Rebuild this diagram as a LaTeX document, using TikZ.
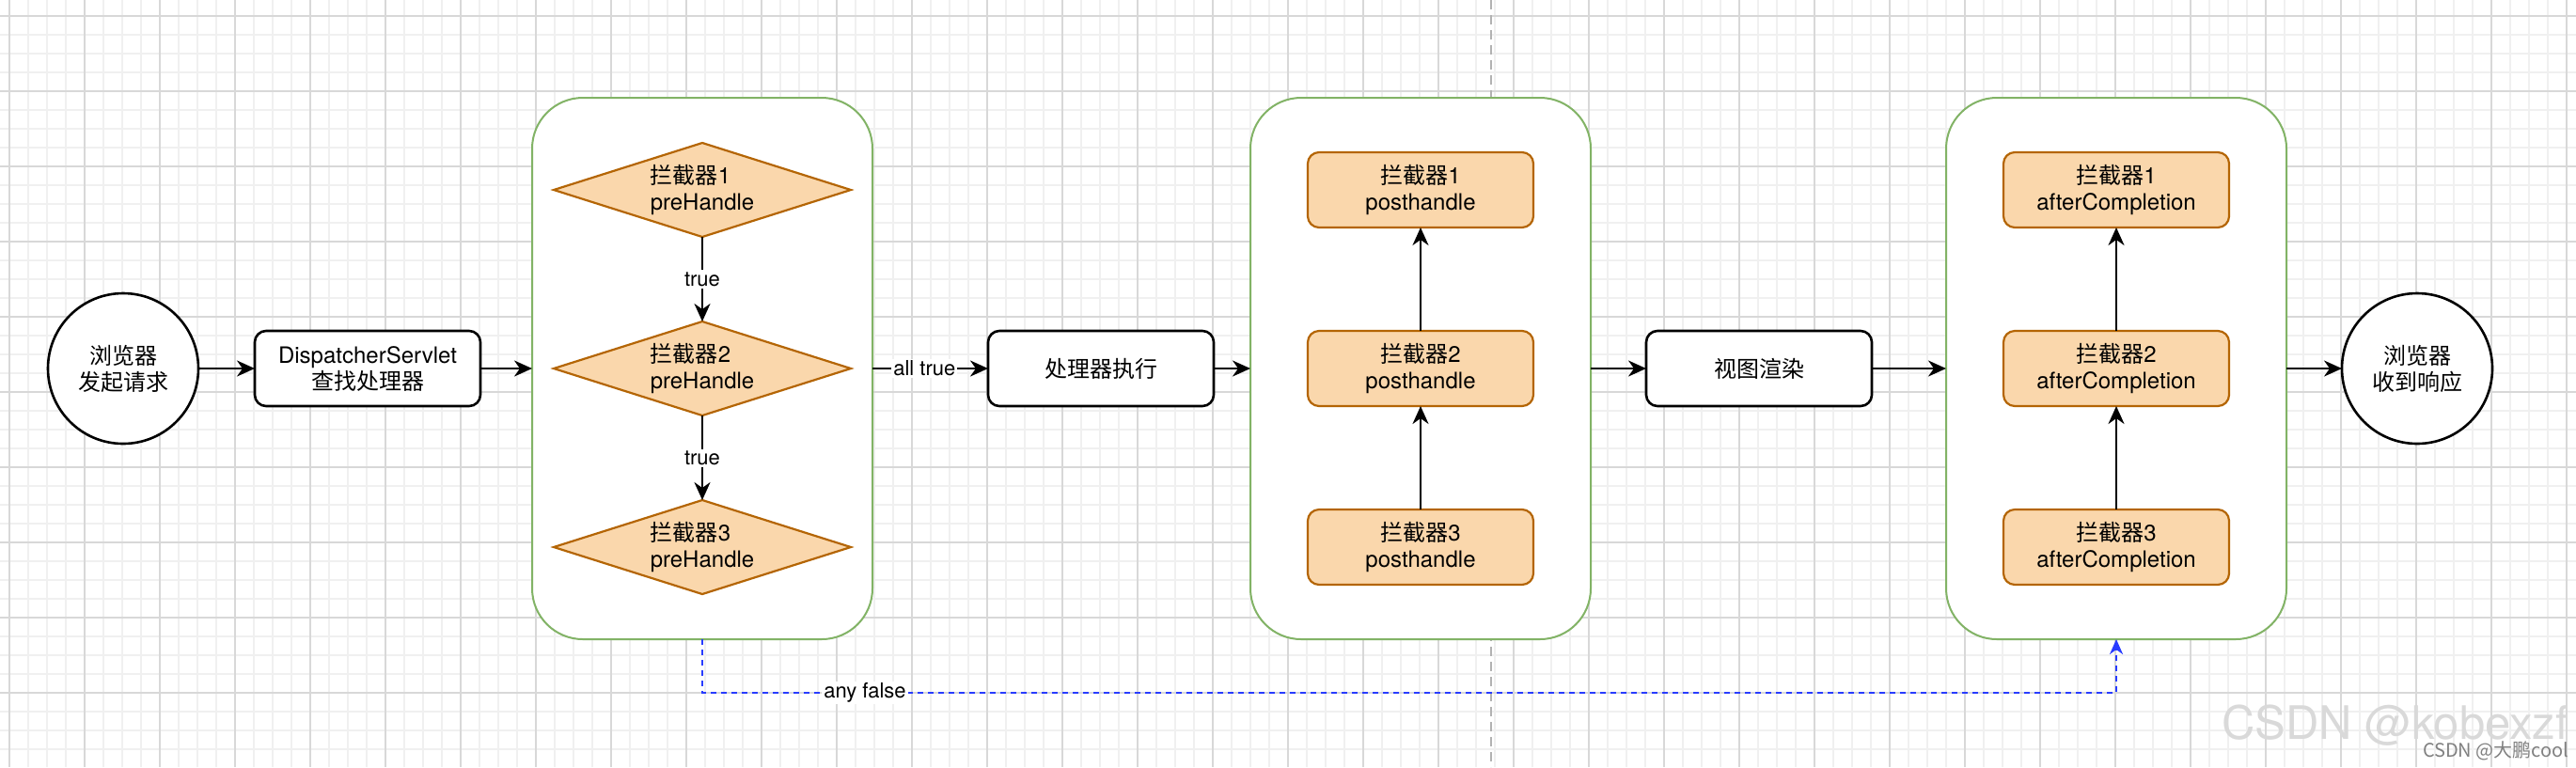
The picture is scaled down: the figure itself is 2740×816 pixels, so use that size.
\documentclass[tikz,border=0pt]{standalone}
\usepackage{fontspec}
\setmainfont{TeX Gyre Heros}
\newfontfamily\cjkfont{Noto Sans CJK SC}
\usetikzlibrary{arrows.meta,shapes.geometric}
\newcommand\zhtxt[1]{{\cjkfont #1}}
\definecolor{orfill}{HTML}{FAD7AC}
\definecolor{orline}{HTML}{B46504}
\definecolor{grline}{HTML}{82B366}
\definecolor{bluel}{RGB}{40,60,255}
\definecolor{gridmin}{HTML}{F0F0F0}
\definecolor{gridmaj}{HTML}{D8D8D8}
\begin{document}
\begin{tikzpicture}[x=0.5pt,y=-0.5pt,
  every node/.style={font=\fontsize{12}{14}\selectfont, inner sep=0pt, outer sep=0pt},
  blackcirc/.style={circle, draw=black, line width=1.3pt, fill=white, minimum size=80pt, align=center},
  blackbox/.style={rectangle, rounded corners=6pt, draw=black, line width=1.3pt, fill=white, minimum width=120pt, minimum height=40pt, align=center},
  orbox/.style={rectangle, rounded corners=6pt, draw=orline, line width=1.1pt, fill=orfill, minimum width=120pt, minimum height=40pt, align=center},
  ordiam/.style={diamond, aspect=3.16, draw=orline, line width=1.1pt, fill=orfill, minimum width=158pt, minimum height=50pt, align=left},
  container/.style={rectangle, rounded corners=27pt, draw=grline, line width=1pt, fill=white, minimum width=181pt, minimum height=288pt},
  flow/.style={-{Stealth[length=9.5pt,width=8.5pt,inset=3pt]}, line width=1.15pt, draw=black},
  lbl/.style={fill=white, font=\fontsize{11}{13}\selectfont, inner sep=1pt},
  falsearrow/.style={-{Stealth[length=8pt,width=7pt,inset=2.5pt]}, draw=bluel, line width=1.1pt, dash pattern=on 3pt off 2.5pt},
]
\useasboundingbox (0,0) rectangle (2740,816);
\fill[white] (0,0) rectangle (2740,816);
% background grid
\foreach \i in {0,...,136} \draw[gridmin, line width=0.8pt] ({10+20*\i},0) -- ({10+20*\i},816);
\foreach \j in {0,...,39} \draw[gridmin, line width=0.8pt] (0,{17+20*\j}) -- (2740,{17+20*\j});
\foreach \i in {0,...,34} \draw[gridmaj, line width=0.7pt] ({10+80*\i},0) -- ({10+80*\i},816);
\foreach \j in {0,...,9} \draw[gridmaj, line width=0.7pt] (0,{17+80*\j}) -- (2740,{17+80*\j});
% page break line
\draw[black!30, line width=0.6pt, dash pattern=on 5pt off 3pt] (1586,0) -- (1586,816);

% containers
\node[container] (c1) at (747,392) {};
\node[container] (c2) at (1511,392) {};
\node[container] (c3) at (2251,392) {};

% outer nodes
\node[blackcirc] (b1) at (131,392) {\zhtxt{浏览器}\\\zhtxt{发起请求}};
\node[blackbox] (ds) at (391,392) {DispatcherServlet\\\zhtxt{查找处理器}};
\node[blackbox] (proc) at (1171,392) {\zhtxt{处理器执行}};
\node[blackbox] (view) at (1871,392) {\zhtxt{视图渲染}};
\node[blackcirc] (b2) at (2571,392) {\zhtxt{浏览器}\\\zhtxt{收到响应}};

% preHandle diamonds
\node[ordiam] (d1) at (747,202) {\zhtxt{拦截器}1\\preHandle};
\node[ordiam] (d2) at (747,392) {\zhtxt{拦截器}2\\preHandle};
\node[ordiam] (d3) at (747,582) {\zhtxt{拦截器}3\\preHandle};

% posthandle boxes
\node[orbox] (p1) at (1511,202) {\zhtxt{拦截器}1\\posthandle};
\node[orbox] (p2) at (1511,392) {\zhtxt{拦截器}2\\posthandle};
\node[orbox] (p3) at (1511,582) {\zhtxt{拦截器}3\\posthandle};

% afterCompletion boxes
\node[orbox] (a1) at (2251,202) {\zhtxt{拦截器}1\\afterCompletion};
\node[orbox] (a2) at (2251,392) {\zhtxt{拦截器}2\\afterCompletion};
\node[orbox] (a3) at (2251,582) {\zhtxt{拦截器}3\\afterCompletion};

% main flow
\draw[flow] (b1.east) -- (ds.west);
\draw[flow] (ds.east) -- (c1.west);
\draw[flow] (c1.east) -- node[lbl, pos=0.45]{all true} (proc.west);
\draw[flow] (proc.east) -- (c2.west);
\draw[flow] (c2.east) -- (view.west);
\draw[flow] (view.east) -- (c3.west);
\draw[flow] (c3.east) -- (b2.west);

% inner flows
\draw[flow] (d1.south) -- node[lbl]{true} (d2.north);
\draw[flow] (d2.south) -- node[lbl]{true} (d3.north);
\draw[flow] (p3.north) -- (p2.south);
\draw[flow] (p2.north) -- (p1.south);
\draw[flow] (a3.north) -- (a2.south);
\draw[flow] (a2.north) -- (a1.south);

% any false
\path (c1.south) ++(0,57) coordinate (f1);
\coordinate (f2) at (f1 -| c3.south);
\draw[falsearrow] (c1.south) -- (f1) -- node[lbl, pos=0.115]{any false} (f2) -- (c3.south);

% watermark
\node[anchor=base west, font=\fontsize{24.5}{28}\selectfont, text=black!15] (wm1) at (2363,786) {CSDN @kobexzf};
\node[anchor=base west, font=\fontsize{10}{12}\cjkfont, text=black!50] (wm2) at (2577,805) {CSDN @大鹏cool};
\end{tikzpicture}
\end{document}
